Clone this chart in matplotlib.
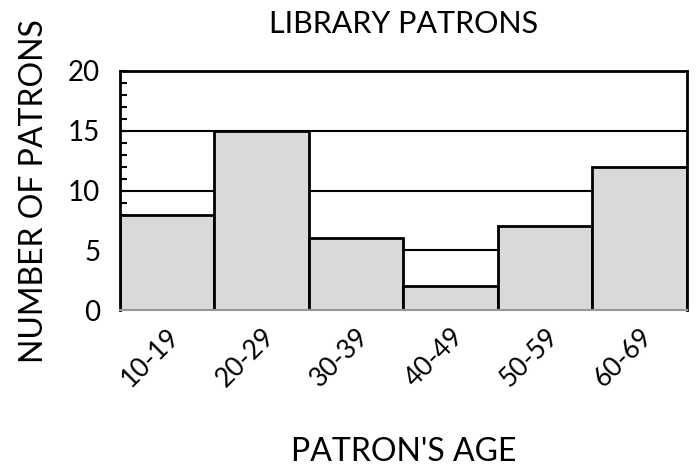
import matplotlib
matplotlib.use('Agg')
import matplotlib.pyplot as plt
import numpy as np

age_groups = ['10-19', '20-29', '30-39', '40-49', '50-59', '60-69']
patrons = [8, 15, 6, 2, 7, 12]

plt.rcParams['font.family'] = ['Lato', 'DejaVu Sans']

fig = plt.figure(figsize=(7, 4.7), dpi=100)
ax = fig.add_axes([0.171, 0.340, 0.810, 0.509])

x = np.arange(len(age_groups))
for y in [5, 10, 15, 20]:
    ax.axhline(y, color='black', linewidth=1.5, zorder=1)
ax.bar(x, patrons, width=1.0, align='edge', color='#d9d9d9',
       edgecolor='black', linewidth=2, zorder=2)

ax.set_xlim(0, len(age_groups))
ax.set_ylim(0, 20)
ax.set_yticks([0, 5, 10, 15, 20])
ax.set_yticks(range(0, 21), minor=True)
ax.tick_params(axis='y', which='both', direction='in', length=5, width=1.5,
               labelsize=20, pad=14)
ax.set_xticks(x + 0.5)
ax.set_xticklabels(age_groups, rotation=45, ha='right', rotation_mode='anchor',
                   fontsize=19)
ax.tick_params(axis='x', length=0, pad=10)

for s in ['left', 'right', 'top']:
    ax.spines[s].set_linewidth(2)
    ax.spines[s].set_color('black')
ax.spines['bottom'].set_color('#999999')
ax.spines['bottom'].set_linewidth(1.5)

ax.set_title('LIBRARY PATRONS', fontsize=22, pad=27)
ax.set_ylabel('NUMBER OF PATRONS', fontsize=23, labelpad=14)
fig.text(0.5 * (0.171 + 0.981), 0.038, "PATRON'S AGE", ha='center',
         va='center', fontsize=23)

fig.savefig('out.png', dpi=100)
